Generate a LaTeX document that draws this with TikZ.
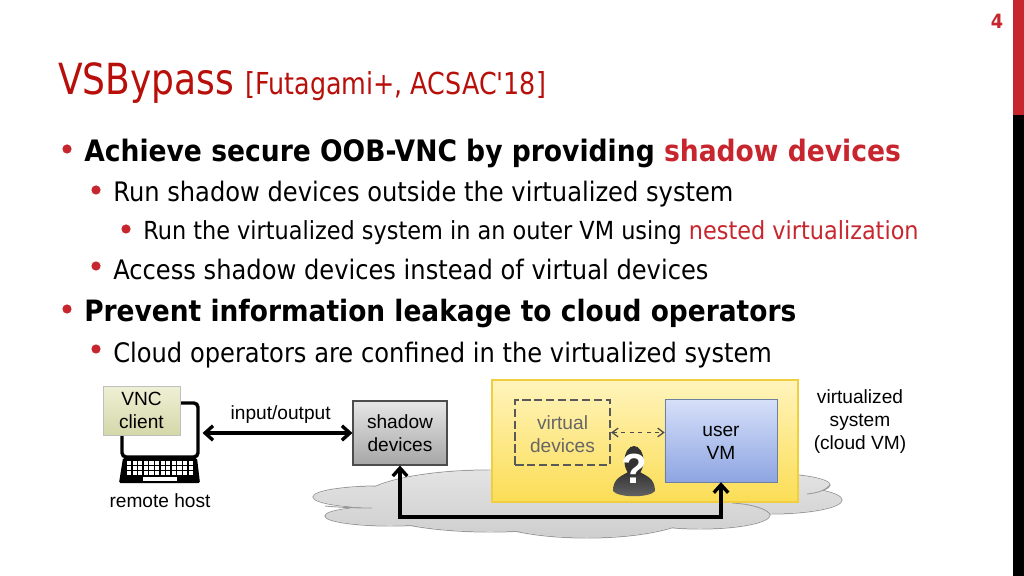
\documentclass[tikz,border=0pt]{standalone}
\usepackage{fontspec}
\setmainfont{Liberation Sans}
\newfontfamily\slidefont[FakeStretch=0.9]{DejaVu Sans}
\newfontfamily\titlefont[FakeStretch=0.84]{DejaVu Sans}
\usetikzlibrary{arrows.meta, positioning, calc, shapes.geometric}
\definecolor{slidered}{HTML}{C8262E}
\definecolor{titlered}{HTML}{B80F0A}
\definecolor{vmtop}{HTML}{FFF4BC}
\definecolor{vmbottom}{HTML}{FBDD55}
\definecolor{vmedge}{HTML}{EFCF3F}
\definecolor{usertop}{HTML}{D6E0F9}
\definecolor{userbottom}{HTML}{8EA5E2}
\definecolor{useredge}{HTML}{6F7F9F}
\definecolor{clienttop}{HTML}{EFF0D6}
\definecolor{clientbottom}{HTML}{D4D8A8}
\tikzset{
    linetext/.style={anchor=base west, inner sep=0pt},
    subtext/.style={linetext, font=\slidefont\fontsize{19.1}{19.1}\selectfont},
    smalltext/.style={linetext, font=\slidefont\fontsize{17.7}{17.7}\selectfont},
    boldtext/.style={linetext, font=\slidefont\bfseries\fontsize{21}{21}\selectfont},
    titletext/.style={linetext, text=titlered, font=\titlefont\fontsize{#1}{#1}\selectfont},
    boxtext/.style={align=center, font=\fontsize{13.6}{16.4}\selectfont},
    thickarrow/.style={{Straight Barb[length=2mm,width=3.6mm]}-{Straight Barb[length=2mm,width=3.6mm]}, line width=2.4pt}
}
\begin{document}
\begin{tikzpicture}[x=0.025cm, y=-0.025cm]
    \useasboundingbox (0, 0) rectangle (1024, 576);
    \fill[white] (0, 0) rectangle (1024, 576);
    % side bar
    \fill[slidered] (1013, 0) rectangle (1024, 115);
    \fill[black] (1013, 115) rectangle (1024, 576);
    \node[text=slidered, font=\slidefont\bfseries\fontsize{14}{14}\selectfont] (pagenum) at (997, 21) {4};
    % title
    \node[titletext=30.5] (title) at (58, 95) {VSBypass};
    \node[titletext=21.5] (cite) at (245, 95) {[Futagami+, ACSAC'18]};
    % bullets
    \foreach \bx/\by in {67/149, 96/190, 126/229, 96/266, 67/309, 96/349}
        \fill[slidered] (\bx, \by) circle(0.115cm);
    \node[boldtext] (lineone) at (84, 162) {Achieve secure OOB-VNC by providing \textcolor{slidered}{shadow devices}};
    \node[subtext] (linetwo) at (113, 202) {Run shadow devices outside the virtualized system};
    \node[smalltext] (linethree) at (143, 240) {Run the virtualized system in an outer VM using \textcolor{slidered}{nested virtualization}};
    \node[subtext] (linefour) at (113, 280) {Access shadow devices instead of virtual devices};
    \node[boldtext, font=\slidefont\bfseries\fontsize{20.9}{20.9}\selectfont] (linefive) at (84, 321) {Prevent information leakage to cloud operators};
    \node[subtext] (linesix) at (113, 362) {Cloud operators are confined in the virtualized system};
    % cloud
    \draw[gray!80, line width=0.7pt] (380, 497) ellipse (67 and 11)
        (390, 516) ellipse (65 and 10)
        (490, 501) ellipse (130 and 31)
        (587, 510) ellipse (110 and 28)
        (700, 515) ellipse (70 and 14)
        (760, 485) ellipse (70 and 12)
        (770, 500) ellipse (72 and 14);
    \shade[top color=gray!22, bottom color=gray!38] (380, 497) ellipse (66.5 and 10.5)
        (390, 516) ellipse (64.5 and 9.5)
        (490, 501) ellipse (129.5 and 30.5)
        (587, 510) ellipse (109.5 and 27.5)
        (700, 515) ellipse (69.5 and 13.5)
        (760, 485) ellipse (69.5 and 11.5)
        (770, 500) ellipse (71.5 and 13.5);
    \draw[gray!80, line width=0.6pt] (372, 508) .. controls (350, 508) and (335, 507) .. (325, 506);
    \draw[gray!80, line width=0.6pt] (807, 494) .. controls (818, 493) and (826, 490) .. (830, 485);
    \draw[gray!80, line width=0.6pt] (732, 503) .. controls (750, 504) and (765, 508) .. (770, 514);
    % virtualized system
    \node[draw=vmedge, line width=0.8pt, top color=vmtop, bottom color=vmbottom, minimum width=7.65cm, minimum height=3.05cm, inner sep=0pt] (cloudvm) at (645, 441) {};
    \node[boxtext, anchor=north] (vmlabel) at (860, 385) {virtualized\\system\\(cloud VM)};
    \node[draw=black!65, dash pattern=on 6pt off 2.5pt, line width=1.7pt, minimum width=2.37cm, minimum height=1.62cm, label={[boxtext, text=black!60, yshift=-1.4pt]center:virtual\\devices}] (virtual) at (562.5, 432.5) {};
    \node[draw=useredge, top color=usertop, bottom color=userbottom, minimum width=2.8cm, minimum height=2.07cm, label={[boxtext, yshift=-1.6pt]center:user\\VM}] (uservm) at (721, 440.5) {};
    % attacker
    \shade[top color=black!80, bottom color=black!60] (613, 491) .. controls (613, 478) and (622, 476) .. (628, 472) -- (640, 472) .. controls (646, 476) and (655, 478) .. (655, 491) .. controls (650, 498) and (618, 498) .. (613, 491) -- cycle;
    \fill[black!80] (634, 461) ellipse (9.5 and 15);
    \node[text=white, font=\bfseries\fontsize{30}{30}\selectfont, inner sep=0pt] (mystery) at (634, 469) {?};
    % vnc client
    \node[draw=black, line width=2.4pt, rounded corners=3pt, minimum width=1.9cm, minimum height=1.35cm, inner sep=0pt] (screen) at (160, 430) {};
    \fill[black, rounded corners=1pt] (123, 458) -- (197, 458) -- (200, 483) -- (119, 483) -- cycle;
    \foreach \row in {0, 1, 2}
        \foreach \key in {0, ..., 11}
            \fill[white] (127 + \key*5.6, 461 + \row*5) rectangle ++(4.2, 3.5);
    \fill[white] (143, 477) rectangle (177, 481);
    \node[draw=black!25, top color=clienttop, bottom color=clientbottom, minimum width=1.92cm, minimum height=1.22cm, boxtext, inner sep=0pt] (client) at (141.5, 410.5) {VNC\\client};
    \node[boxtext] (remote) at (160, 501) {remote host};
    % shadow devices
    \node[draw=black!70, line width=0.8pt, top color=gray!20, bottom color=gray!70, minimum width=2.35cm, minimum height=1.6cm, boxtext] (shadow) at (400, 433) {shadow\\devices};
    \coordinate (busline) at (560, 517);
    % connectors
    \draw[thickarrow, shorten <=2pt] (screen.east |- shadow.west) -- (shadow.west) node[pos=0.53, above=2pt, boxtext] (iolabel) {input/output};
    \draw[thickarrow] (shadow.south) |- (busline) -| (uservm.south);
    \draw[{Straight Barb[length=1.5mm,width=2.2mm]}-{Straight Barb[length=1.5mm,width=2.2mm]}, dashed, black!70, line width=0.9pt] (virtual.east) -- (virtual.east -| uservm.west);
\end{tikzpicture}
\end{document}
